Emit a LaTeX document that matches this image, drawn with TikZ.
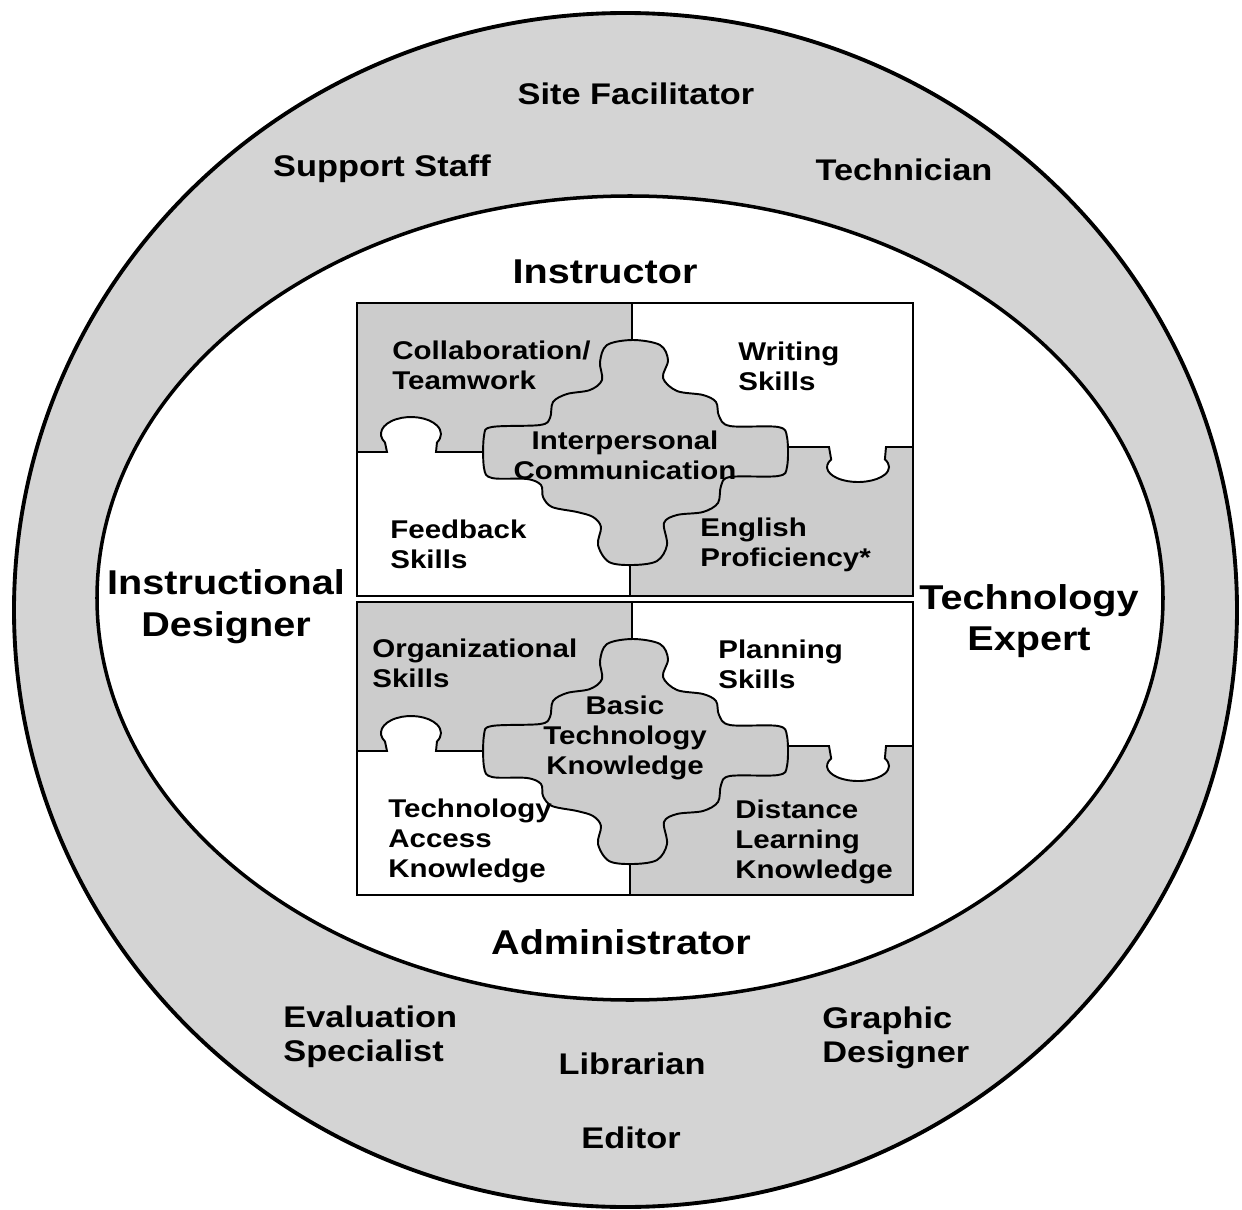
\documentclass[tikz,border=0pt]{standalone}
\usepackage{fontspec}
\setmainfont{Liberation Sans}[FakeStretch=1.15]
\begin{document}
\begin{tikzpicture}[x=0.02cm,y=-0.02cm]
    \tikzstyle{piece}=[fill=black!20,draw=black,line width=1.1pt]
    \tikzstyle{shade}=[fill=black!20]
    \tikzstyle{seam}=[draw=black,line width=1.1pt]
    \tikzstyle{skill}=[font=\bfseries\fontsize{14.6}{17}\selectfont,align=left,anchor=west,inner sep=0pt]
    \tikzstyle{core}=[font=\bfseries\fontsize{14.6}{17}\selectfont,align=center,inner sep=0pt]
    \tikzstyle{role}=[font=\bfseries\fontsize{19.6}{23.8}\selectfont,align=center,inner sep=0pt]
    \tikzstyle{staff}=[font=\bfseries\fontsize{17}{19.6}\selectfont,align=left,inner sep=0pt]

    \useasboundingbox (0,0) rectangle (1242,1210);

    \fill[black!17] (625.5,610) ellipse [x radius=611.5,y radius=597];
    \fill[white] (630,598) ellipse [x radius=533,y radius=402];
    \draw[line width=2.2pt] (625.5,610) ellipse [x radius=611.5,y radius=597];
    \draw[line width=2pt] (630,598) ellipse [x radius=533,y radius=402];

    \foreach \dy in {0,299} {
    \begin{scope}[shift={(0,\dy)}]
      \fill[white] (357,303) rectangle (913,596);
      \fill[shade] (632,452) -- (632,303) -- (357,303) -- (357,452) -- (387,452)
        -- (385,442.5) arc[start angle=150,end angle=390,x radius=30,y radius=17]
        -- (436,452) -- (484,452) -- cycle;
      \fill[shade] (630,447) -- (829,447)
        -- (831.2,459.5) arc[start angle=210,end angle=-30,x radius=31,y radius=15]
        -- (886,447) -- (913,447) -- (913,596) -- (630,596) -- cycle;

      \draw[seam] (632,303) -- (632,342);
      \draw[seam] (357,452) -- (387,452)
        -- (385,442.5) arc[start angle=150,end angle=390,x radius=30,y radius=17]
        -- (436,452) -- (486,452);
      \draw[seam] (785,447) -- (829,447)
        -- (831.2,459.5) arc[start angle=210,end angle=-30,x radius=31,y radius=15]
        -- (886,447) -- (913,447);
      \draw[seam] (630,563) -- (630,596);

      \filldraw[piece] plot[smooth cycle,tension=0.55] coordinates {
        (600,362) (607,345) (633,340) (660,345) (668,360) (663,378)
        (677,391) (703,395) (716,402) (719,416) (730,426) (778,427)
        (787,437) (787,467) (778,476) (730,477) (721,486) (718,503)
        (703,512) (677,515) (664,523) (667,545) (657,561) (633,565)
        (609,562) (598,545) (601,527) (593,517) (577,512) (552,507)
        (543,497) (541,485) (527,479) (492,478) (484,468) (484,436)
        (492,427) (540,425) (550,418) (553,402) (567,394) (590,390)
        (602,380)};

      \draw[line width=1.6pt] (357,303) rectangle (913,596);
    \end{scope}
    }

    \node[skill] (collab) at (392,365) {Collaboration/\\Teamwork};
    \node[skill] (writing) at (738,366) {Writing\\Skills};
    \node[core] (interp) at (625,455) {Interpersonal\\Communication};
    \node[skill] (feedback) at (390,544) {Feedback\\Skills};
    \node[skill] (english) at (700,545) {English\\Proficiency*};

    \node[skill] (organiz) at (372,663) {Organizational\\Skills};
    \node[skill] (planning) at (718,664) {Planning\\Skills};
    \node[core] (basic) at (625,738) {Basic\\Technology\\Knowledge};
    \node[skill] (access) at (388,841) {Technology\\Access\\Knowledge};
    \node[skill] (distance) at (735,842) {Distance\\Learning\\Knowledge};

    \node[role] (instructor) at (605,272) {Instructor};
    \node[role] (insdesigner) at (226,607) {Instructional\\Designer};
    \node[role] (techexpert) at (1029,621) {Technology\\Expert};
    \node[role] (admin) at (621,942) {Administrator};

    \node[staff] (site) at (636,94) {Site Facilitator};
    \node[staff] (support) at (382,169) {Support Staff};
    \node[staff] (technician) at (904,170) {Technician};
    \node[staff,anchor=west] (evaluation) at (283,1037) {Evaluation\\Specialist};
    \node[staff] (librarian) at (632,1064) {Librarian};
    \node[staff,anchor=west] (graphic) at (822,1038) {Graphic\\Designer};
    \node[staff] (editor) at (631,1138) {Editor};
\end{tikzpicture}
\end{document}
